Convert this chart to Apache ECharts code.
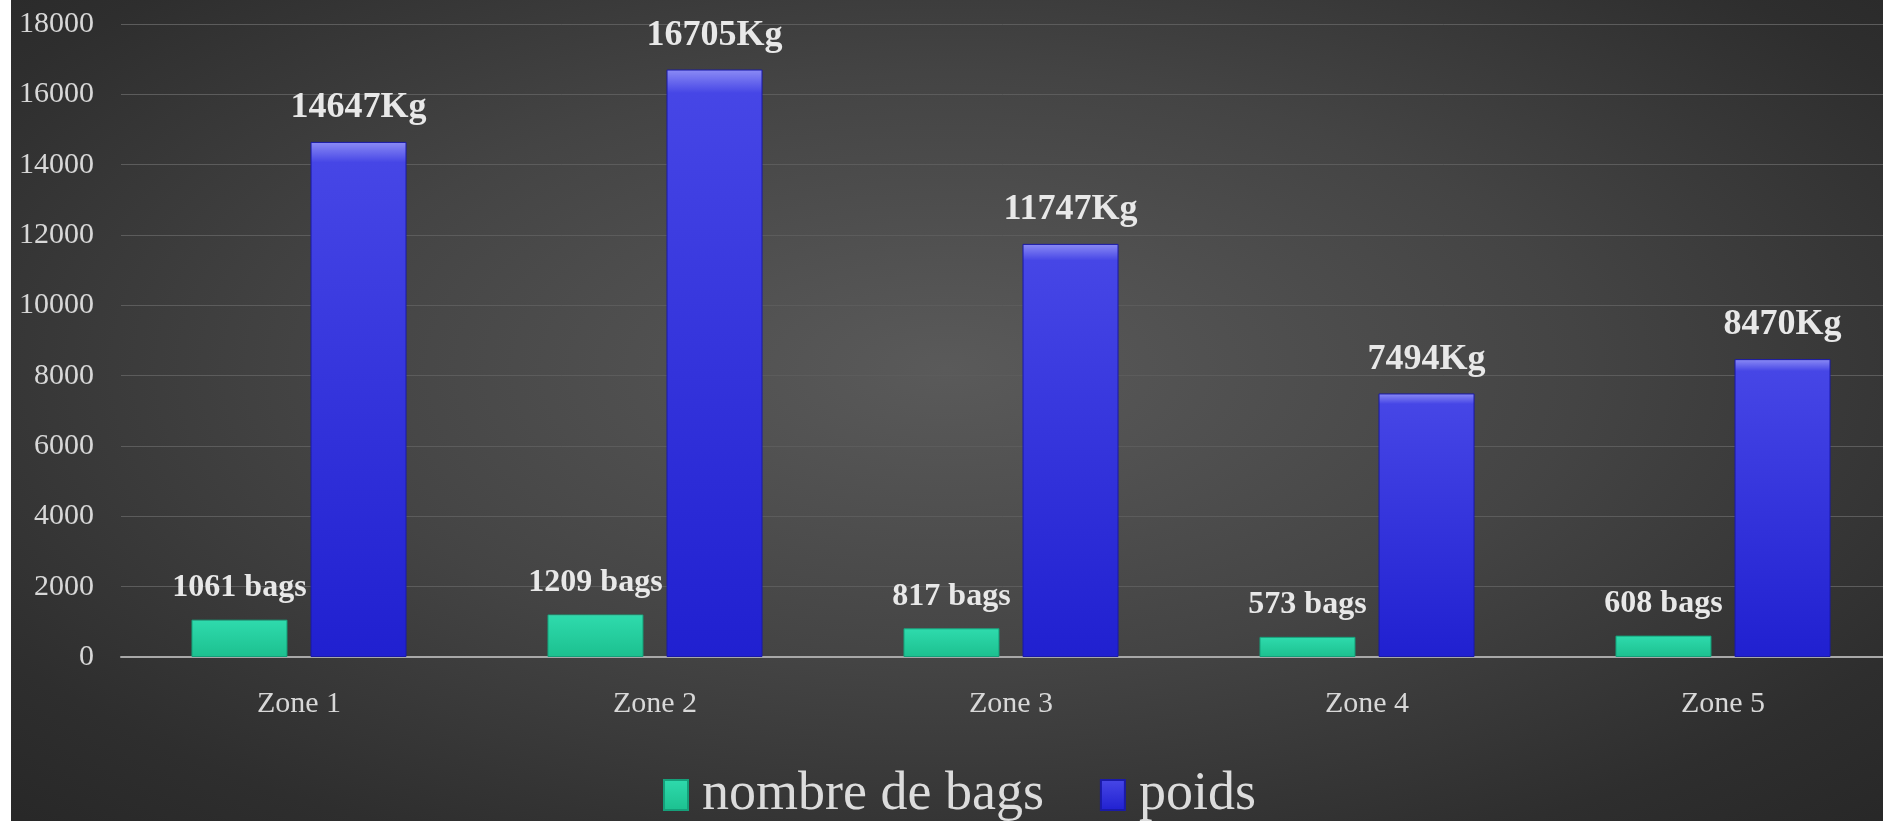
<!DOCTYPE html>
<html>
<head>
<meta charset="utf-8">
<script src="https://cdn.jsdelivr.net/npm/echarts@6/dist/echarts.min.js"></script>
<style>
  html, body { margin: 0; padding: 0; background: #ffffff; }
  #chart {
    position: absolute; left: 11px; top: 0;
    width: 1872px; height: 821px;
    background: radial-gradient(ellipse 75% 80% at 50% 45%, #5a5a5a 0%, #444444 45%, #2e2e2e 80%, #262626 100%);
  }
</style>
</head>
<body>
<div id="chart"></div>
<script>
// data
let zones = ['Zone 1', 'Zone 2', 'Zone 3', 'Zone 4', 'Zone 5'];
let bags = [1061, 1209, 817, 573, 608];
let poids = [14647, 16705, 11747, 7494, 8470];

let myChart = echarts.init(document.getElementById('chart'));
let serif = '"Liberation Serif", "Times New Roman", serif';

// bevelled look: light top edge, then a vertical fade
function bevel(top, mid, bottom) {
    return new echarts.graphic.LinearGradient(0, 0, 0, 1, [
        { offset: 0, color: top },
        { offset: 0.04, color: mid },
        { offset: 1, color: bottom }
    ]);
}

myChart.setOption({
    backgroundColor: 'transparent',
    textStyle: { fontFamily: serif },
    legend: {
        top: 763,
        left: 647,
        itemWidth: 24,
        itemHeight: 30,
        itemGap: 56,
        icon: 'rect',
        textStyle: {
            color: '#dcdcdc', fontSize: 54, fontFamily: serif,
            padding: [0, 0, 0, 9]
        },
        data: ['nombre de bags', 'poids']
    },
    grid: {
        top: 24,
        bottom: 164,
        left: 110,
        right: -18,
        outerBoundsMode: 'none'
    },
    xAxis: {
        type: 'category',
        data: zones,
        axisLine: { lineStyle: { color: '#a8a8a8', width: 2 } },
        axisTick: { show: false },
        axisLabel: { color: '#d8d8d8', fontSize: 30, margin: 32, fontFamily: serif }
    },
    yAxis: {
        type: 'value',
        min: 0,
        max: 18000,
        interval: 2000,
        axisLine: { show: false },
        axisTick: { show: false },
        axisLabel: {
            color: '#d8d8d8', fontSize: 30, margin: 27, fontFamily: serif,
            formatter: function (v) { return String(v); }
        },
        splitLine: { lineStyle: { color: '#5c5c5c', width: 1 } }
    },
    series: [
        {
            name: 'nombre de bags',
            type: 'bar',
            data: bags,
            barWidth: 96,
            barGap: '24%',
            itemStyle: {
                color: bevel('#8ff8e0', '#2edaac', '#1cc08f'),
                borderColor: '#15a07a',
                borderWidth: 1
            },
            label: {
                show: true,
                position: 'top',
                distance: 16,
                color: '#e8e8e8',
                fontSize: 32,
                fontWeight: 'bold',
                fontFamily: serif,
                formatter: function (p) { return p.value + ' bags'; }
            }
        },
        {
            name: 'poids',
            type: 'bar',
            data: poids,
            barWidth: 96,
            itemStyle: {
                color: bevel('#8c8cf5', '#4646e6', '#2020d0'),
                borderColor: '#1a1aa8',
                borderWidth: 1
            },
            label: {
                show: true,
                position: 'top',
                distance: 16,
                color: '#e8e8e8',
                fontSize: 36,
                fontWeight: 'bold',
                fontFamily: serif,
                formatter: function (p) { return p.value + 'Kg'; }
            }
        }
    ]
});

window.addEventListener('resize', function () {
    myChart.resize();
});
</script>
</body>
</html>
